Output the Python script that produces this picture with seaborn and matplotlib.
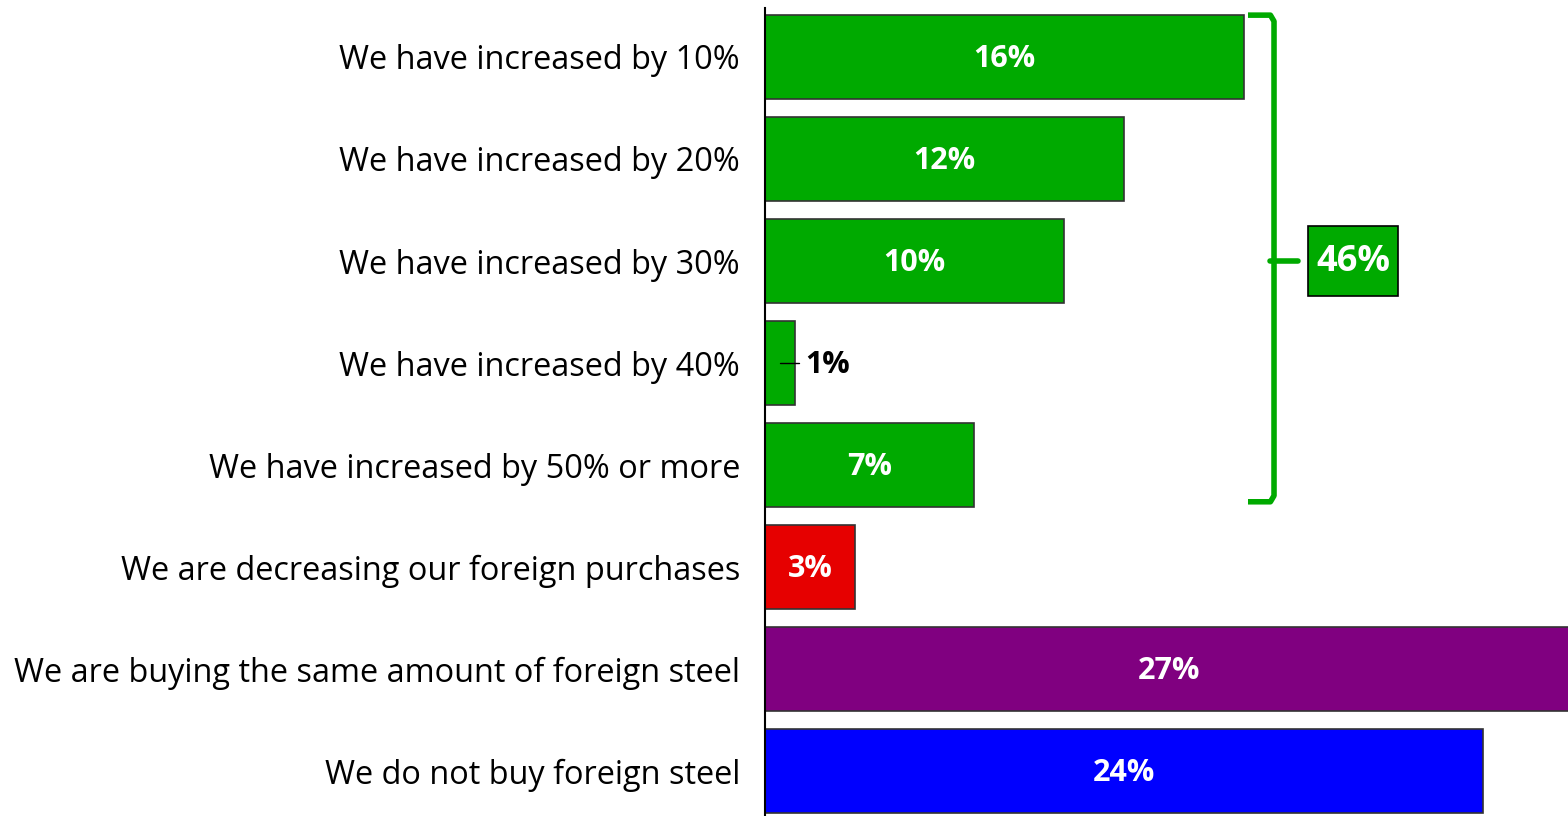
import pandas as pd
import numpy as np
import matplotlib
matplotlib.use("Agg")
import matplotlib.pyplot as plt
from matplotlib.patches import Rectangle
import seaborn as sns

# Данные
answers = [
    "We have increased by 10%",
    "We have increased by 20%",
    "We have increased by 30%",
    "We have increased by 40%",
    "We have increased by 50% or more",
    "We are decreasing our foreign purchases",
    "We are buying the same amount of foreign steel",
    "We do not buy foreign steel",
]
shares = [16, 12, 10, 1, 7, 3, 27, 24]
bar_colors = ["#00AA00", "#00AA00", "#00AA00", "#00AA00", "#00AA00",
              "#E60000", "#800080", "#0000FF"]
increased_total = 46

df = pd.DataFrame({"answer": answers, "share": shares})

sns.set_theme(style="white")
plt.rcParams['font.family'] = ['Open Sans', 'DejaVu Sans']

fig = plt.figure(figsize=(15.68, 8.16), dpi=100)
ax = fig.add_axes([765 / 1568, 0, 1 - 765 / 1568, 1 - 8 / 816])

sns.barplot(data=df, y="answer", x="share", hue="answer", palette=bar_colors,
            legend=False, width=0.83, edgecolor="#333333", linewidth=1.2, ax=ax,
            orient="h", saturation=1)

ax.set_xlim(0, 26.85)
ax.set_ylim(7.44, -0.48)
ax.set_xlabel("")
ax.set_ylabel("")
ax.set_xticks([])
ax.tick_params(axis="y", length=0, pad=18, labelsize=23.4, labelcolor="black")
for s in ["top", "right", "bottom"]:
    ax.spines[s].set_visible(False)
ax.spines["left"].set_color("black")
ax.spines["left"].set_linewidth(1.5)

# Подписи значений
for i, v in enumerate(shares):
    if v < 2:
        ax.plot([0.5, 1.15], [i, i], color="black", lw=1)
        ax.text(1.35, i + 0.02, f"{v}%", va="center", ha="left", color="black",
                fontsize=22, fontweight="bold")
    else:
        ax.text(v / 2, i + 0.02, f"{v}%", va="center", ha="center", color="white",
                fontsize=22, fontweight="bold")

# Фигурная скобка для суммы
brace_color = "#00AA00"
x0, x1 = 16.15, 17.02
top, bot, mid = -0.41, 4.36, 2.0
ax.plot([x0, x1 - 0.12, x1, x1, x1, x1 - 0.12, x0],
        [top, top, top + 0.06, mid, bot - 0.06, bot, bot],
        color=brace_color, lw=4, solid_capstyle="butt", solid_joinstyle="round",
        clip_on=False)
ax.plot([x1 - 0.15, x1 + 0.8], [mid, mid],
        color=brace_color, lw=4, solid_capstyle="round", clip_on=False)
ax.add_patch(Rectangle((18.16, mid - 0.343), 3.01, 0.686, fc=brace_color,
                       ec="black", lw=1.2, clip_on=False))
ax.text(19.67, mid + 0.01, f"{increased_total}%", va="center", ha="center",
        color="white", fontsize=26, fontweight="bold")

fig.savefig("out.png", dpi=100)
